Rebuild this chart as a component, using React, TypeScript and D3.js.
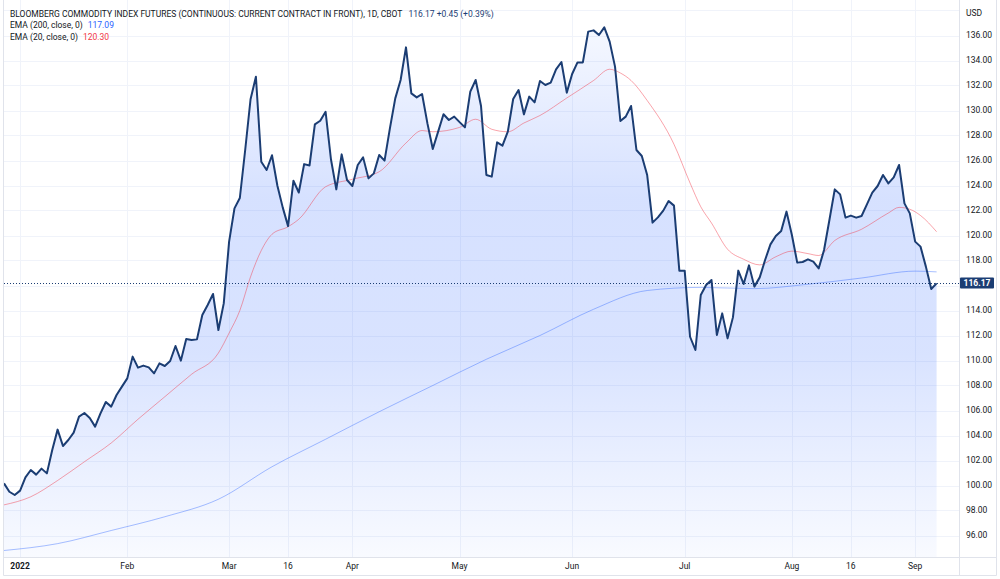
import React, { useEffect } from "react";
import * as d3 from "d3";

// Daily closes, 29 Dec 2021 .. 8 Sep 2022 (trading days)
const closes: number[] = [
  100.17, 99.5, 99.24, 99.59, 100.65, 101.24, 100.87, 101.35, 100.97, 102.84,
  104.47, 103.16, 103.64, 104.23, 105.51, 105.8, 105.4, 104.71, 105.77, 106.68,
  106.31, 107.24, 107.91, 108.57, 110.31, 109.43, 109.59, 109.45, 108.97, 109.77,
  109.56, 109.96, 111.16, 109.99, 111.72, 111.64, 111.69, 113.64, 114.44, 115.32,
  112.44, 114.57, 119.51, 122.17, 123.0, 126.84, 130.9, 132.7, 125.9, 125.24,
  126.42, 124.0, 122.25, 120.75, 124.38, 123.44, 125.71, 125.6, 128.89, 129.18,
  129.9, 126.1, 123.69, 126.49, 124.44, 123.96, 125.64, 126.25, 124.57, 124.97,
  126.44, 125.99, 128.57, 130.97, 132.44, 135.05, 131.37, 131.05, 131.32, 128.97,
  126.92, 128.31, 129.7, 129.24, 129.51, 129.07, 128.65, 131.51, 132.44, 130.36,
  124.84, 124.71, 127.45, 127.19, 128.31, 130.92, 131.64, 129.69, 131.11, 130.65,
  132.36, 132.04, 132.23, 133.29, 133.88, 131.43, 132.92, 133.85, 133.85, 136.31,
  136.41, 136.04, 136.65, 135.51, 133.51, 129.16, 129.51, 130.36, 126.84, 126.36,
  124.84, 121.03, 121.45, 121.99, 122.76, 122.39, 117.19, 117.19, 111.9, 110.84,
  115.24, 116.04, 116.44, 112.04, 113.77, 111.77, 113.45, 117.19, 116.12, 117.61,
  115.91, 116.65, 118.04, 119.29, 119.96, 120.36, 121.91, 120.04, 117.83, 117.88,
  118.09, 117.91, 117.37, 118.84, 121.24, 123.69, 123.29, 121.43, 121.59, 121.43,
  121.56, 122.49, 123.43, 123.96, 124.84, 124.17, 124.65, 125.64, 122.57, 121.77,
  119.51, 119.11, 117.51, 115.72, 116.17,
];

// EMA(20) at these trading-day indices
const ema20Idx: number[] = [0, 5, 10, 15, 20, 25, 30, 35, 40, 42, 44, 46, 48, 50, 53, 55, 60, 65, 70, 75, 78, 80, 85, 88, 91, 94, 97, 100, 105, 110, 113, 115, 117, 120, 125, 128, 130, 132, 135, 138, 141, 144, 147, 150, 152, 155, 160, 165, 167, 169, 171, 174];
const ema20Val: number[] = [98.45, 99.1, 100.4, 101.9, 103.4, 105.3, 107.1, 108.9, 110.6, 112.2, 114.0, 116.7, 118.8, 120.1, 120.7, 121.3, 123.9, 124.5, 125.1, 127.4, 128.4, 128.3, 128.65, 129.3, 128.5, 128.3, 129.0, 129.6, 131.0, 132.4, 133.3, 133.0, 132.4, 130.8, 127.3, 124.2, 122.3, 121.0, 118.9, 118.1, 117.65, 118.3, 118.75, 118.55, 118.4, 119.6, 120.5, 121.8, 122.25, 122.1, 121.6, 120.3];

// EMA(200)
const ema200Idx: number[] = [0, 10, 20, 30, 40, 50, 60, 70, 80, 90, 100, 110, 120, 130, 140, 150, 160, 170, 174];
const ema200Val: number[] = [94.8, 95.35, 96.4, 97.5, 98.9, 101.5, 103.7, 105.9, 108.0, 110.1, 112.0, 114.1, 115.6, 115.85, 115.75, 116.1, 116.6, 117.15, 117.09];

// x-axis labels and the trading-day index they mark
const xTickLabels: string[] = ["2022", "Feb", "Mar", "16", "Apr", "May", "Jun", "Jul", "Aug", "16", "Sep"];
const xTickIdx: number[] = [3, 23, 42, 53, 65, 85, 106, 127, 147, 158, 170];

const yTicks: number[] = d3.range(96, 138.01, 2);

const title = "BLOOMBERG COMMODITY INDEX FUTURES (CONTINUOUS: CURRENT CONTRACT IN FRONT), 1D, CBOT";
const lastText = "116.17  +0.45 (+0.39%)";
const ema200Label = "EMA (200, close, 0)";
const ema200Last = "117.09";
const ema20Label = "EMA (20, close, 0)";
const ema20Last = "120.30";
const lastPrice = 116.17;

const W = 1000;
const H = 579;
const paneL = 3.5;
const paneR = 959.5;
const paneB = 557.5;
const FONT = "Roboto, 'Noto Sans', sans-serif";

export default function App() {
  useEffect(() => {
    document.body.style.margin = "0";
  }, []);

  const x = d3.scaleLinear().domain([0, 174]).range([4, 936.6]);
  const y = d3.scaleLinear().domain([96, 136]).range([535.5, 35.5]);

  const idx = closes.map((_, i) => i);
  const line = d3
    .line<number>()
    .x((i) => x(i))
    .y((i) => y(closes[i]))(idx) as string;
  const area = d3
    .area<number>()
    .x((i) => x(i))
    .y0(paneB)
    .y1((i) => y(closes[i]))(idx) as string;

  const emaLine = (ix: number[], vals: number[]) =>
    d3
      .line<number>()
      .x((k) => x(ix[k]))
      .y((k) => y(vals[k]))
      .curve(d3.curveMonotoneX)(ix.map((_, k) => k)) as string;

  const textColor = "#131722";
  const gridColor = "#f0f3fa";
  const borderColor = "#e0e3eb";
  const lastY = Math.round(y(lastPrice)) + 0.5;

  // hide the tick label that collides with the last-price marker
  const visibleYTicks = yTicks.filter((t) => t <= 136 && Math.abs(y(t) - y(lastPrice)) > 9);

  return (
    <svg
      width={W}
      height={H}
      style={{ position: "absolute", left: 0, top: 0, display: "block", background: "#fff" }}
      fontFamily={FONT}
    >
      <defs>
        <linearGradient id="areaGrad" gradientUnits="userSpaceOnUse" x1={0} y1={20} x2={0} y2={paneB}>
          <stop offset="0" stopColor="#2962ff" stopOpacity={0.04} />
          <stop offset="0.33" stopColor="#2962ff" stopOpacity={0.19} />
          <stop offset="0.62" stopColor="#2962ff" stopOpacity={0.18} />
          <stop offset="1" stopColor="#2962ff" stopOpacity={0.03} />
        </linearGradient>
        <clipPath id="pane">
          <rect x={paneL} y={0} width={paneR - paneL} height={paneB} />
        </clipPath>
      </defs>

      {/* grid */}
      <g clipPath="url(#pane)">
        {yTicks.map((t) => (
          <line key={"gy" + t} x1={paneL} x2={paneR} y1={Math.round(y(t)) + 0.5} y2={Math.round(y(t)) + 0.5} stroke={gridColor} strokeWidth={1} />
        ))}
        {xTickIdx.map((t, k) => (
          <line key={"gx" + k} x1={Math.round(x(t)) + 0.5} x2={Math.round(x(t)) + 0.5} y1={0} y2={paneB} stroke={gridColor} strokeWidth={1} />
        ))}
      </g>

      {/* area + lines */}
      <g clipPath="url(#pane)">
        <path d={area} fill="url(#areaGrad)" stroke="none" />
        <path d={emaLine(ema200Idx, ema200Val)} fill="none" stroke="#2962ff" strokeOpacity={0.4} strokeWidth={1} />
        <path d={emaLine(ema20Idx, ema20Val)} fill="none" stroke="#f23645" strokeOpacity={0.45} strokeWidth={1} />
        <path d={line} fill="none" stroke="#1b3d73" strokeWidth={2} strokeLinejoin="round" />
        <line
          x1={paneL}
          x2={paneR}
          y1={lastY}
          y2={lastY}
          stroke="#1b3d73"
          strokeWidth={1}
          strokeDasharray="1 2"
          shapeRendering="crispEdges"
        />
      </g>

      {/* borders */}
      <line x1={paneR} x2={paneR} y1={0} y2={575.5} stroke={borderColor} />
      <line x1={paneL} x2={996.5} y1={paneB} y2={paneB} stroke={borderColor} />
      <line x1={paneL} x2={996.5} y1={575.5} y2={575.5} stroke={borderColor} />
      <line x1={paneL} x2={paneL} y1={0} y2={575.5} stroke={borderColor} />
      <line x1={996.5} x2={996.5} y1={0} y2={575.5} stroke={borderColor} />

      {/* legend */}
      <g fontSize={8.5} fill={textColor}>
        <text x={10} y={16.5}>
          {title}
          <tspan dx={6} fill="#1b3d73">{lastText}</tspan>
        </text>
        <text x={10} y={28}>
          {ema200Label}
          <tspan dx={5} fill="#2962ff">{ema200Last}</tspan>
        </text>
        <text x={10} y={39.5}>
          {ema20Label}
          <tspan dx={5} fill="#f23645">{ema20Last}</tspan>
        </text>
      </g>

      {/* y axis */}
      <g fontSize={8.5} fill={textColor}>
        <text x={966} y={15.5}>USD</text>
        {visibleYTicks.map((t) => (
          <text key={"yt" + t} x={966} y={y(t)} dy="0.35em">
            {t.toFixed(2)}
          </text>
        ))}
      </g>
      <rect x={960} y={lastY - 6} width={34} height={11} fill="#1b3d73" rx={1} />
      <text x={977} y={lastY - 0.5} dy="0.35em" textAnchor="middle" fontSize={8.5} fill="#fff" fontWeight="bold">
        {lastPrice.toFixed(2)}
      </text>

      {/* x axis */}
      <g fontSize={8.5} fill={textColor}>
        {xTickLabels.map((lab, k) => (
          <text
            key={"xt" + k}
            x={x(xTickIdx[k])}
            y={566.5}
            dy="0.35em"
            textAnchor="middle"
            fontWeight={lab === "2022" ? "bold" : "normal"}
          >
            {lab}
          </text>
        ))}
      </g>
    </svg>
  );
}
